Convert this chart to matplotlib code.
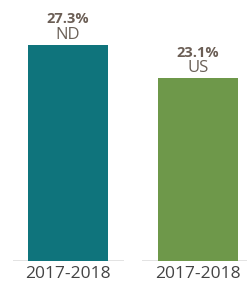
import matplotlib
matplotlib.use("Agg")
import matplotlib.pyplot as plt

categories = ["2017-2018", "2017-2018"]
regions = ["ND", "US"]
values = [27.3, 23.1]
colors = ["#0f747c", "#6e984a"]

plt.rcParams['font.family'] = ['Open Sans', 'DejaVu Sans']

fig = plt.figure(figsize=(2.47, 2.82), dpi=100)
ax = fig.add_axes([0, 21/282, 1, 1 - 21/282])
x = list(range(len(values)))
bars = ax.bar(x, values, width=0.615, color=colors, zorder=3)
ax.set_xlim(-68/130, (247-68)/130)
ax.set_ylim(0, 27.3*261/216)

# baseline shadows
ax.hlines(0, -0.42, 0.43, color="#dedede", lw=1.2, zorder=2)
ax.hlines(0, 0.57, 1.45, color="#dedede", lw=1.2, zorder=2)

for xi, v, r in zip(x, values, regions):
    ax.annotate(r, (xi, v), xytext=(0, 4.3), textcoords="offset points",
                ha="center", va="baseline", fontsize=12, color="#6b6158")
    ax.annotate(f"{v}%", (xi, v), xytext=(0, 15.5), textcoords="offset points",
                ha="center", va="baseline", fontsize=10.5, fontweight="bold",
                color="#6b5e55")

ax.set_xticks(x)
ax.set_xticklabels(categories, fontsize=12.5, color="#444444")
ax.tick_params(axis="x", length=0, pad=3.5)
ax.set_yticks([])
for s in ax.spines.values():
    s.set_visible(False)

fig.savefig("out.png", dpi=100)
